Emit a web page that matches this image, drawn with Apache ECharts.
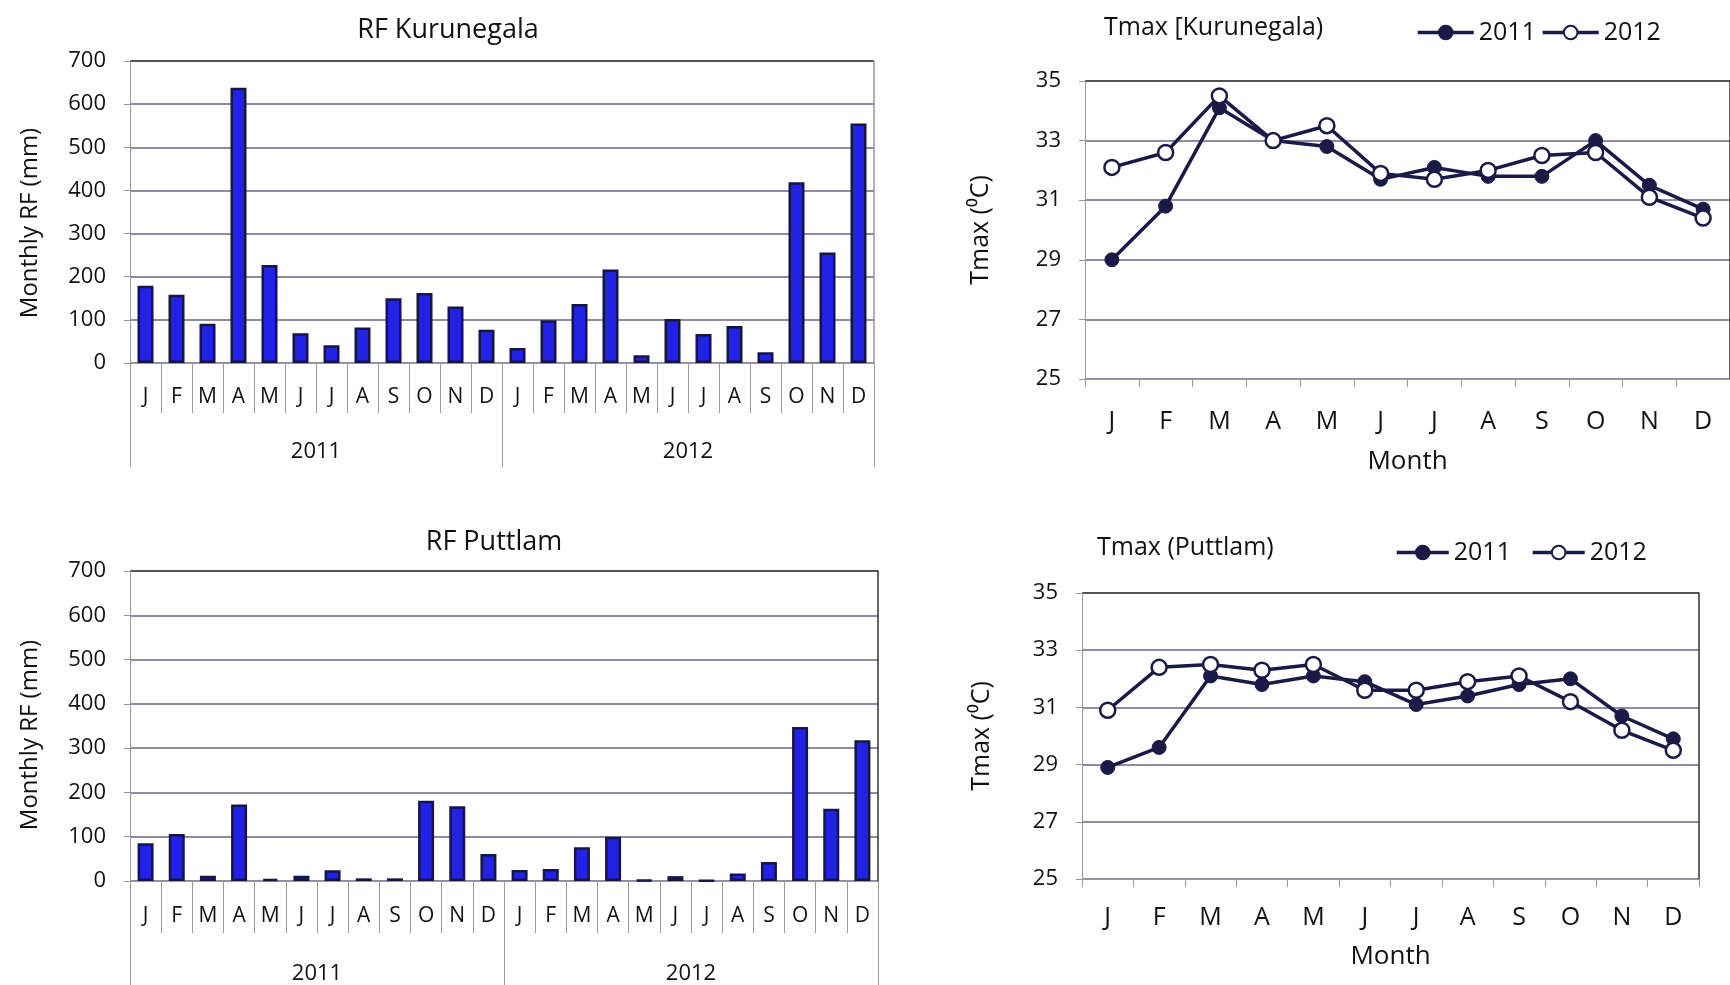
<!DOCTYPE html>
<html>
<head>
<meta charset="utf-8">
<script src="https://cdn.jsdelivr.net/npm/echarts@6/dist/echarts.min.js"></script>
<style>
html,body{margin:0;padding:0;background:#fff;}
#chart{width:1730px;height:985px;}
</style>
</head>
<body>
<div id="chart"></div>
<script>
// ---- data ----
const monthLetters = ['J','F','M','A','M','J','J','A','S','O','N','D'];
const years = ['2011','2012'];
const rfKurunegala2011 = [179,158,91,638,227,69,41,82,150,162,131,77];
const rfKurunegala2012 = [35,99,137,217,18,102,67,86,25,419,256,555];
const rfPuttlam2011 = [85,106,12,173,4,12,24,6,6,181,169,61];
const rfPuttlam2012 = [25,27,76,100,2,11,1,17,43,348,163,318];
const tmaxKurunegala2011 = [29.0,30.8,34.1,33.0,32.8,31.7,32.1,31.8,31.8,33.0,31.5,30.7];
const tmaxKurunegala2012 = [32.1,32.6,34.5,33.0,33.5,31.9,31.7,32.0,32.5,32.6,31.1,30.4];
const tmaxPuttlam2011 = [28.9,29.6,32.1,31.8,32.1,31.9,31.1,31.4,31.8,32.0,30.7,29.9];
const tmaxPuttlam2012 = [30.9,32.4,32.5,32.3,32.5,31.6,31.6,31.9,32.1,31.2,30.2,29.5];
const rfTicks = {min:0, max:700, interval:100};
const tTicks = {min:25, max:35, interval:2};

// ---- build ----
const months24 = [];
years.forEach(y => monthLetters.forEach((m, i) => months24.push(m + '-' + y + '-' + i)));
const monthFmt = v => v.split('-')[0];
const monthCats12 = monthLetters.map((m, i) => m + '-' + i);

const FONT = 'Open Sans';
const TXT = '#111111';
const GRID_C = '#66668c';
const AX_C = '#999999';
const LINE_C = '#1b1a47';

function splitColors(n){ const a=[]; for(let i=0;i<n-1;i++) a.push(GRID_C); a.push('#1a1a1a'); return a; }

function monthAxis(grid, tickLen, margin, fontSize, extra){
  return Object.assign({
    type:'category', gridIndex:grid, position:'bottom', boundaryGap:true,
    axisLine:{show:true, lineStyle:{color:AX_C, width:1}},
    axisTick:{show:true, interval:0, length:tickLen, lineStyle:{color:AX_C, width:1}},
    axisLabel:{interval:0, margin:margin, fontSize:fontSize, fontFamily:FONT, color:TXT, formatter:monthFmt},
    splitLine:{show:false}
  }, extra||{});
}
function yearAxis(grid, tickLen, margin){
  return {
    type:'category', gridIndex:grid, position:'bottom', data:years, boundaryGap:true,
    axisLine:{show:false},
    axisTick:{show:true, interval:0, length:tickLen, lineStyle:{color:AX_C, width:1}},
    axisLabel:{interval:0, margin:margin, fontSize:22, fontFamily:FONT, color:TXT}
  };
}
function valAxis(grid, t, name, nameGap, pad, nameSize){
  const n = Math.round((t.max - t.min)/t.interval) + 1;
  return {
    type:'value', gridIndex:grid, position:'left', min:t.min, max:t.max, interval:t.interval,
    name:name, nameLocation:'middle', nameGap:nameGap, nameRotate:90,
    nameTextStyle:{fontSize:nameSize, fontFamily:FONT, color:TXT, padding:pad},
    axisLine:{show:true, lineStyle:{color:AX_C, width:1}},
    axisTick:{show:true, length:6, lineStyle:{color:AX_C}},
    axisLabel:{margin:24, fontSize:22, fontFamily:FONT, color:TXT},
    splitLine:{show:true, lineStyle:{color:splitColors(n), width:1.5}}
  };
}
function rightAxis(grid, t, color){
  return {
    type:'value', gridIndex:grid, position:'right', min:t.min, max:t.max, interval:t.interval,
    axisLine:{show:true, lineStyle:{color:color, width:1.5}},
    axisTick:{show:false}, axisLabel:{show:false}, splitLine:{show:false}
  };
}
function barSeries(xi, yi, data){
  return {
    type:'bar', xAxisIndex:xi, yAxisIndex:yi, data:data, barWidth:16,
    itemStyle:{color:'#2222e6', borderColor:'#15154a', borderWidth:2.5}
  };
}
function lineSeries(name, xi, yi, data, open){
  return {
    type:'line', name:name, xAxisIndex:xi, yAxisIndex:yi, data:data,
    symbol:'circle', symbolSize: open ? 15 : 14,
    lineStyle:{color:LINE_C, width:3.5},
    itemStyle: open ? {color:'#ffffff', borderColor:LINE_C, borderWidth:2.5} : {color:LINE_C, borderColor:LINE_C, borderWidth:1}
  };
}

const option = {
  backgroundColor:'#ffffff',
  animation:false,
  title:[
    {text:'RF Kurunegala', left:443, top:12, textAlign:'center', textStyle:{fontSize:27, fontWeight:'normal', fontFamily:FONT, color:TXT}},
    {text:'RF Puttlam', left:489, top:524, textAlign:'center', textStyle:{fontSize:27, fontWeight:'normal', fontFamily:FONT, color:TXT}},
    {text:'Tmax [Kurunegala)', left:1099, top:10, textStyle:{fontSize:25, fontWeight:'normal', fontFamily:FONT, color:TXT}},
    {text:'Tmax (Puttlam)', left:1092, top:530, textStyle:{fontSize:25, fontWeight:'normal', fontFamily:FONT, color:TXT}}
  ],
  legend:[
    {data:years, left:1411, top:15, itemWidth:56, itemHeight:17, itemGap:5, lineStyle:{width:3.5},
     textStyle:{fontSize:25, fontFamily:FONT, color:TXT}},
    {data:years, left:1390, top:535, itemWidth:52, itemHeight:17, itemGap:20, lineStyle:{width:3.5},
     textStyle:{fontSize:25, fontFamily:FONT, color:TXT}}
  ],
  grid:[
    {left:130, top:61, width:744, height:302},
    {left:130, top:571, width:748, height:310},
    {left:1085, top:81, width:654, height:298},
    {left:1082, top:593, width:617, height:286}
  ],
  xAxis:[
    monthAxis(0, 50, 24, 21, {data:months24}),
    yearAxis(0, 104, 78),
    monthAxis(1, 52, 25, 21, {data:months24}),
    yearAxis(1, 110, 82),
    monthAxis(2, 8, 30, 25, {data:monthCats12, name:'Month', nameLocation:'middle', nameGap:70,
      nameTextStyle:{fontSize:26, fontFamily:FONT, color:TXT},
      axisTick:{show:true, interval:0, length:8, lineStyle:{color:AX_C}}}),
    monthAxis(3, 8, 26, 25, {data:monthCats12, name:'Month', nameLocation:'middle', nameGap:65,
      nameTextStyle:{fontSize:26, fontFamily:FONT, color:TXT},
      axisTick:{show:true, interval:0, length:8, lineStyle:{color:AX_C}}})
  ],
  yAxis:[
    valAxis(0, rfTicks, 'Monthly RF (mm)', 88, [0,22,0,0], 24),
    rightAxis(0, rfTicks, AX_C),
    valAxis(1, rfTicks, 'Monthly RF (mm)', 88, [0,18,0,0], 24),
    rightAxis(1, rfTicks, '#333'),
    valAxis(2, tTicks, 'Tmax (⁰C)', 92, [0,0,0,0], 25),
    rightAxis(2, tTicks, '#333'),
    valAxis(3, tTicks, 'Tmax (⁰C)', 88, [0,0,0,0], 25),
    rightAxis(3, tTicks, '#333')
  ],
  series:[
    barSeries(0, 0, rfKurunegala2011.concat(rfKurunegala2012)),
    barSeries(2, 2, rfPuttlam2011.concat(rfPuttlam2012)),
    lineSeries('2011', 4, 4, tmaxKurunegala2011, false),
    lineSeries('2012', 4, 4, tmaxKurunegala2012, true),
    lineSeries('2011', 5, 6, tmaxPuttlam2011, false),
    lineSeries('2012', 5, 6, tmaxPuttlam2012, true)
  ]
};
const chart = echarts.init(document.getElementById('chart'), null, {renderer:'canvas'});
chart.setOption(option);
</script>
</body>
</html>
